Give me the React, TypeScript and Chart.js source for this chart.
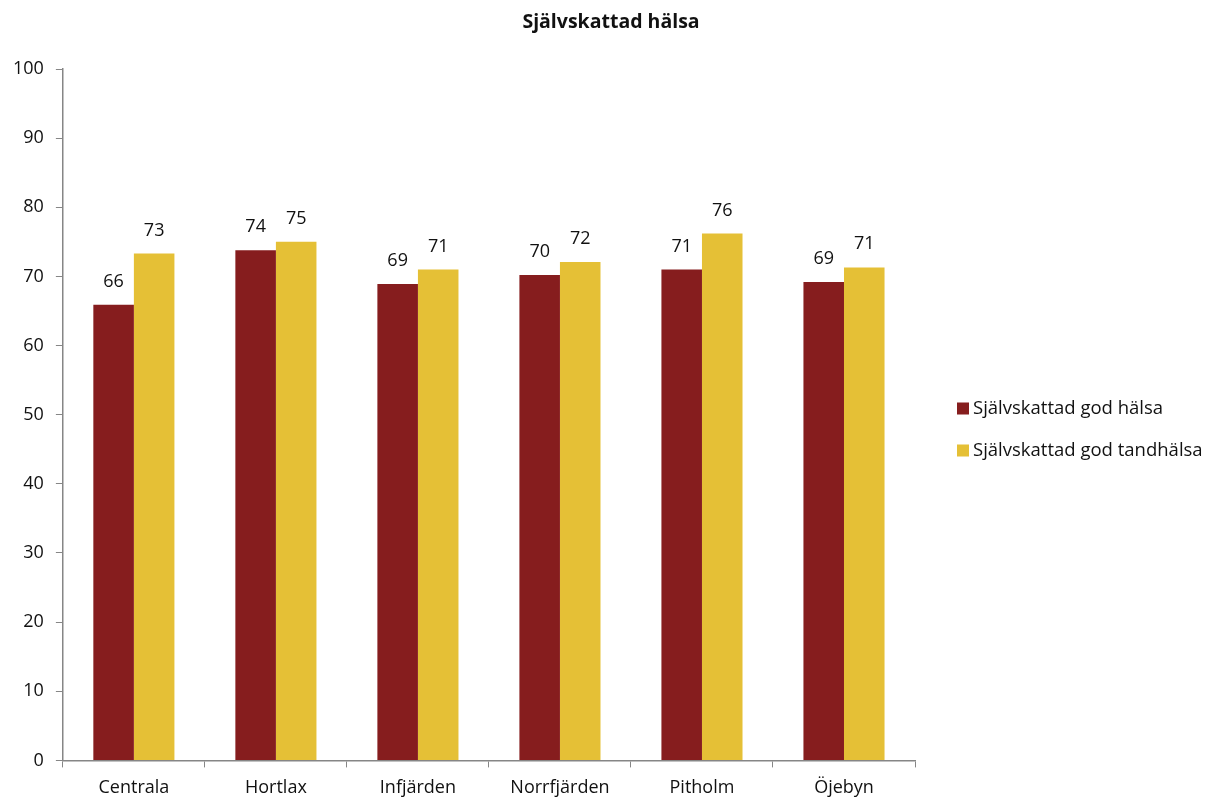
import React, { useEffect, useRef } from "react";
import { Chart, registerables } from "chart.js";

Chart.register(...registerables);

const categories = ["Centrala", "Hortlax", "Infjärden", "Norrfjärden", "Pitholm", "Öjebyn"];
const godHalsa = [65.9, 73.8, 68.9, 70.2, 71.0, 69.2];
const godTandhalsa = [73.3, 75.0, 71.0, 72.1, 76.2, 71.3];
const seriesNames = ["Självskattad god hälsa", "Självskattad god tandhälsa"];
const yTicks = [0, 10, 20, 30, 40, 50, 60, 70, 80, 90, 100];
const chartTitle = "Självskattad hälsa";

const RED = "#861D1E";
const YELLOW = "#E5C036";
const AXIS = "#868686";
const TEXT = "#111111";
const FONT = "'Open Sans', 'Noto Sans', sans-serif";
const SIZE = 18;

// Rounded value above each bar
const valueLabels = {
  id: "valueLabels",
  afterDatasetsDraw(chart: any) {
    const ctx = chart.ctx;
    ctx.save();
    ctx.font = `${SIZE}px ${FONT}`;
    ctx.fillStyle = TEXT;
    ctx.textAlign = "center";
    ctx.textBaseline = "alphabetic";
    chart.data.datasets.forEach((ds: any, di: number) => {
      const meta = chart.getDatasetMeta(di);
      meta.data.forEach((bar: any, i: number) => {
        ctx.fillText(String(Math.round(ds.data[i])), bar.x, bar.y - 18);
      });
    });
    ctx.restore();
  },
};

// Title centred across the whole canvas, legend stacked right of the plot
const titleAndLegend = {
  id: "titleAndLegend",
  afterDraw(chart: any) {
    const ctx = chart.ctx;
    const area = chart.chartArea;
    ctx.save();
    ctx.fillStyle = TEXT;
    ctx.font = `bold 19.5px ${FONT}`;
    ctx.textAlign = "center";
    ctx.textBaseline = "middle";
    ctx.fillText(chartTitle, chart.width / 2 + 4, 22);

    const x = area.right + 42;
    const spacing = 42;
    const n = chart.data.datasets.length;
    const midY = 429.5;
    ctx.font = `18.5px ${FONT}`;
    ctx.textAlign = "left";
    chart.data.datasets.forEach((ds: any, i: number) => {
      const cy = midY + (i - (n - 1) / 2) * spacing;
      ctx.fillStyle = ds.backgroundColor;
      ctx.fillRect(x, cy - 6, 12, 12);
      ctx.fillStyle = TEXT;
      ctx.fillText(ds.label, x + 16, cy);
    });
    ctx.restore();
  },
};

export default function App() {
  const canvasRef = useRef<HTMLCanvasElement | null>(null);

  useEffect(() => {
    document.body.style.margin = "0";
    const canvas = canvasRef.current;
    if (!canvas) return;
    const chart = new Chart(canvas, {
      type: "bar",
      data: {
        labels: categories,
        datasets: [
          { label: seriesNames[0], data: godHalsa, backgroundColor: RED, borderWidth: 0 },
          { label: seriesNames[1], data: godTandhalsa, backgroundColor: YELLOW, borderWidth: 0 },
        ],
      },
      options: {
        responsive: false,
        animation: false,
        devicePixelRatio: 1,
        layout: { autoPadding: false, padding: { left: 1, right: 299, top: 69, bottom: -11 } },
        datasets: {
          bar: { categoryPercentage: 0.571, barPercentage: 1.0 },
        },
        plugins: {
          legend: { display: false },
          tooltip: { enabled: false },
          title: { display: false },
        },
        scales: {
          x: {
            grid: {
              display: true,
              drawOnChartArea: false,
              drawTicks: true,
              tickLength: 7,
              color: AXIS,
              offset: true,
            },
            border: { display: true, color: AXIS, width: 1.5 },
            ticks: { color: TEXT, font: { family: FONT, size: SIZE }, padding: 10 },
          },
          y: {
            min: 0,
            max: 100,
            afterBuildTicks: (axis: any) => {
              axis.ticks = yTicks.map((v) => ({ value: v }));
            },
            grid: {
              display: true,
              drawOnChartArea: false,
              drawTicks: true,
              tickLength: 7,
              color: AXIS,
            },
            border: { display: true, color: AXIS, width: 1.5 },
            ticks: { color: TEXT, font: { family: FONT, size: SIZE }, padding: 12 },
          },
        },
      },
      plugins: [valueLabels, titleAndLegend],
    });
    return () => chart.destroy();
  }, []);

  return (
    <div style={{ width: 1214, height: 798 }}>
      <canvas ref={canvasRef} width={1214} height={798} />
    </div>
  );
}
